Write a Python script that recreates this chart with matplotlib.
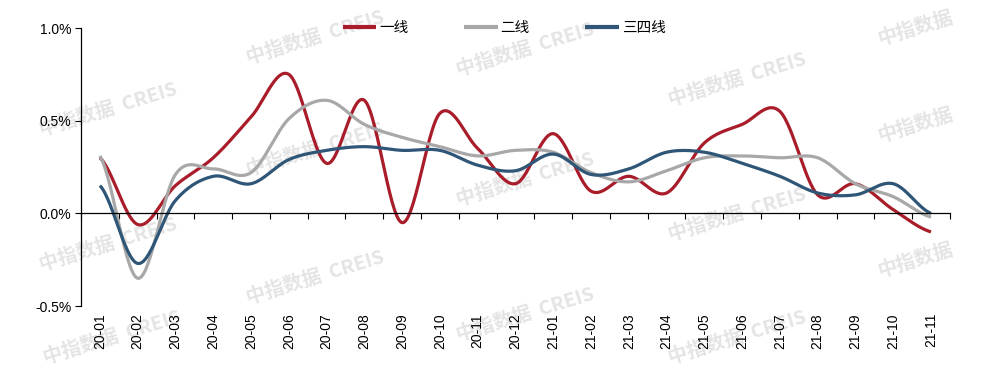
import numpy as np
import matplotlib
matplotlib.use("Agg")
import matplotlib.pyplot as plt
import matplotlib.transforms as mtransforms

plt.rcParams['font.family'] = ['Liberation Sans', 'Noto Sans CJK SC', 'DejaVu Sans']

months = ['20-01', '20-02', '20-03', '20-04', '20-05', '20-06', '20-07', '20-08',
          '20-09', '20-10', '20-11', '20-12', '21-01', '21-02', '21-03', '21-04',
          '21-05', '21-06', '21-07', '21-08', '21-09', '21-10', '21-11']

tier1 = [0.30, -0.06, 0.15, 0.30, 0.52, 0.75, 0.27, 0.61, -0.05, 0.54, 0.35, 0.16,
         0.43, 0.12, 0.20, 0.11, 0.38, 0.48, 0.55, 0.10, 0.16, 0.02, -0.10]
tier2 = [0.31, -0.35, 0.21, 0.24, 0.22, 0.51, 0.61, 0.48, 0.41, 0.36, 0.31, 0.34,
         0.33, 0.22, 0.17, 0.23, 0.30, 0.31, 0.30, 0.30, 0.16, 0.09, -0.02]
tier34 = [0.15, -0.27, 0.07, 0.20, 0.16, 0.29, 0.34, 0.36, 0.34, 0.34, 0.26, 0.23,
          0.32, 0.21, 0.24, 0.33, 0.33, 0.27, 0.20, 0.11, 0.10, 0.16, 0.00]

series_names = ['一线', '二线', '三四线']
colors = ['#A91C2A', '#A8A8A8', '#2F5677']


def smooth(y, n=30):
    # excel-style smoothed line (catmull-rom through the points)
    y = np.asarray(y, float)
    p = np.concatenate([[y[0]], y, [y[-1]]])
    xs, ys = [], []
    for i in range(len(y) - 1):
        p0, p1, p2, p3 = p[i], p[i + 1], p[i + 2], p[i + 3]
        t = np.linspace(0, 1, n, endpoint=False)
        yy = 0.5 * (2 * p1 + (-p0 + p2) * t + (2 * p0 - 5 * p1 + 4 * p2 - p3) * t ** 2
                    + (-p0 + 3 * p1 - 3 * p2 + p3) * t ** 3)
        xs.append(i + t)
        ys.append(yy)
    xs.append([len(y) - 1])
    ys.append([y[-1]])
    return np.concatenate(xs), np.concatenate(ys)


fig = plt.figure(figsize=(9.93, 3.76), dpi=100)
ax = fig.add_axes([0.0816, 0.186, 0.875, 0.7395])
ax.set_facecolor('none')

# watermarks (behind everything)
wm_font = ['Noto Sans CJK SC', 'DejaVu Sans']
marks = [(108, 110), (108, 245), (112, 338), (315, 38), (315, 150), (315, 278),
         (525, 50), (525, 180), (525, 315), (737, 80), (737, 215), (737, 338)]
for (px, py) in marks:
    fig.text(px / 993, 1 - py / 376, '中指数据  CREIS', fontsize=14, fontweight='bold',
             color='#E4E4E4', rotation=17, ha='center', va='center', zorder=-1,
             family=wm_font)
for (px, py) in [(915, 125), (915, 260), (915, 28)]:
    fig.text(px / 993, 1 - py / 376, '中指数据', fontsize=14, fontweight='bold',
             color='#E4E4E4', rotation=17, ha='center', va='center', zorder=-1,
             family=wm_font)

for vals, name, c in zip([tier1, tier2, tier34], series_names, colors):
    xs, ys = smooth(vals)
    ax.plot(xs, ys, color=c, lw=2.3, label=name, solid_capstyle='butt')

ax.set_xlim(-0.5, len(months) - 0.5)
ax.set_ylim(-0.5, 1.0)
ax.set_yticks([-0.5, 0.0, 0.5, 1.0])
ax.set_yticklabels(['-0.5%', '0.0%', '0.5%', '1.0%'], fontsize=10)
ax.tick_params(axis='y', direction='out', length=4, width=0.8, pad=3)

ax.spines['top'].set_visible(False)
ax.spines['right'].set_visible(False)
ax.spines['bottom'].set_position(('data', 0))
ax.spines['left'].set_linewidth(0.9)
ax.spines['bottom'].set_linewidth(0.9)

ax.set_xticks(np.arange(-0.5, len(months), 1.0))
ax.set_xticklabels([])
ax.tick_params(axis='x', direction='out', length=4, width=0.8)

trans = mtransforms.blended_transform_factory(ax.transData, ax.transAxes)
for i, m in enumerate(months):
    ax.text(i, -0.025, m, rotation=90, ha='center', va='top', fontsize=10,
            transform=trans)

leg = ax.legend(loc='center', bbox_to_anchor=(0.487, 1.0), ncol=3, frameon=False,
                handlelength=2.3, handletextpad=0.2, columnspacing=3.8,
                prop={'family': ['Noto Sans CJK SC', 'DejaVu Sans'], 'size': 10.5})
for ln in leg.get_lines():
    ln.set_linewidth(3)

fig.savefig('out.png', dpi=100)
